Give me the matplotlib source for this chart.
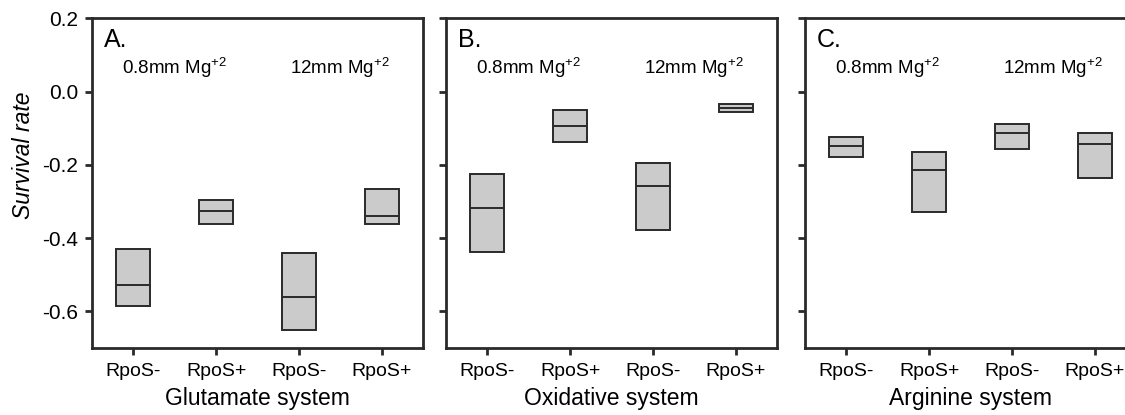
import matplotlib
matplotlib.use('Agg')
import matplotlib.pyplot as plt

plt.rcParams['font.family'] = ['Liberation Sans', 'DejaVu Sans']
plt.rcParams['mathtext.fontset'] = 'custom'
plt.rcParams['mathtext.rm'] = 'Liberation Sans'
plt.rcParams['mathtext.it'] = 'Liberation Sans:italic'

groups = ['RpoS-', 'RpoS+', 'RpoS-', 'RpoS+']
panels = ['A.', 'B.', 'C.']
systems = ['Glutamate system', 'Oxidative system', 'Arginine system']
mg_labels = ['0.8mm Mg$^{+2}$', '12mm Mg$^{+2}$']

# lower edge, median, upper edge of each box, per panel
glut_low = [-0.584, -0.362, -0.650, -0.362]
glut_med = [-0.527, -0.326, -0.561, -0.341]
glut_high = [-0.431, -0.297, -0.440, -0.265]

oxid_low = [-0.438, -0.139, -0.377, -0.057]
oxid_med = [-0.319, -0.094, -0.259, -0.046]
oxid_high = [-0.226, -0.049, -0.194, -0.035]

argi_low = [-0.179, -0.328, -0.157, -0.236]
argi_med = [-0.149, -0.215, -0.113, -0.144]
argi_high = [-0.125, -0.164, -0.089, -0.112]

lows = [glut_low, oxid_low, argi_low]
meds = [glut_med, oxid_med, argi_med]
highs = [glut_high, oxid_high, argi_high]

yticks = [0.2, 0.0, -0.2, -0.4, -0.6]

fig = plt.figure(figsize=(11.25, 4.15), dpi=100)
lefts = [0.0818, 0.3964, 0.7156]
edge = '#2a2a2a'
x = [1, 2, 3, 4]

for i in range(3):
    ax = fig.add_axes([lefts[i], 0.1614, 0.2942, 0.7945])
    heights = [h - l for h, l in zip(highs[i], lows[i])]
    ax.bar(x, heights, bottom=lows[i], width=0.41, color='#cbcbcb',
           edgecolor=edge, linewidth=1.4, zorder=2)
    ax.hlines(meds[i], [p - 0.205 for p in x], [p + 0.205 for p in x],
              color=edge, linewidth=1.4, zorder=3)

    ax.set_xlim(0.5, 4.5)
    ax.set_ylim(-0.7, 0.2)
    ax.set_xticks(x)
    ax.set_xticklabels(groups, fontsize=14)
    ax.set_yticks(yticks)
    if i == 0:
        ax.set_yticklabels(['%.1f' % v for v in yticks], fontsize=15)
    else:
        ax.set_yticklabels([])
    ax.tick_params(direction='out', length=5, width=2, color=edge, pad=5)
    ax.tick_params(axis='x', pad=6)
    for s in ax.spines.values():
        s.set_linewidth(2)
        s.set_color(edge)
    ax.set_xlabel(systems[i], fontsize=16.5, labelpad=5)

    ax.text(0.035, 0.97, panels[i], transform=ax.transAxes, fontsize=18,
            ha='left', va='top')
    ax.text(1.5, 0.064, mg_labels[0], fontsize=13.5, ha='center', va='center')
    ax.text(3.5, 0.064, mg_labels[1], fontsize=13.5, ha='center', va='center')

fig.text(0.021, 1 - 155 / 415, 'Survival rate', rotation=90, fontsize=16.5,
         style='italic', ha='center', va='center')

fig.savefig('out.png', dpi=100)
